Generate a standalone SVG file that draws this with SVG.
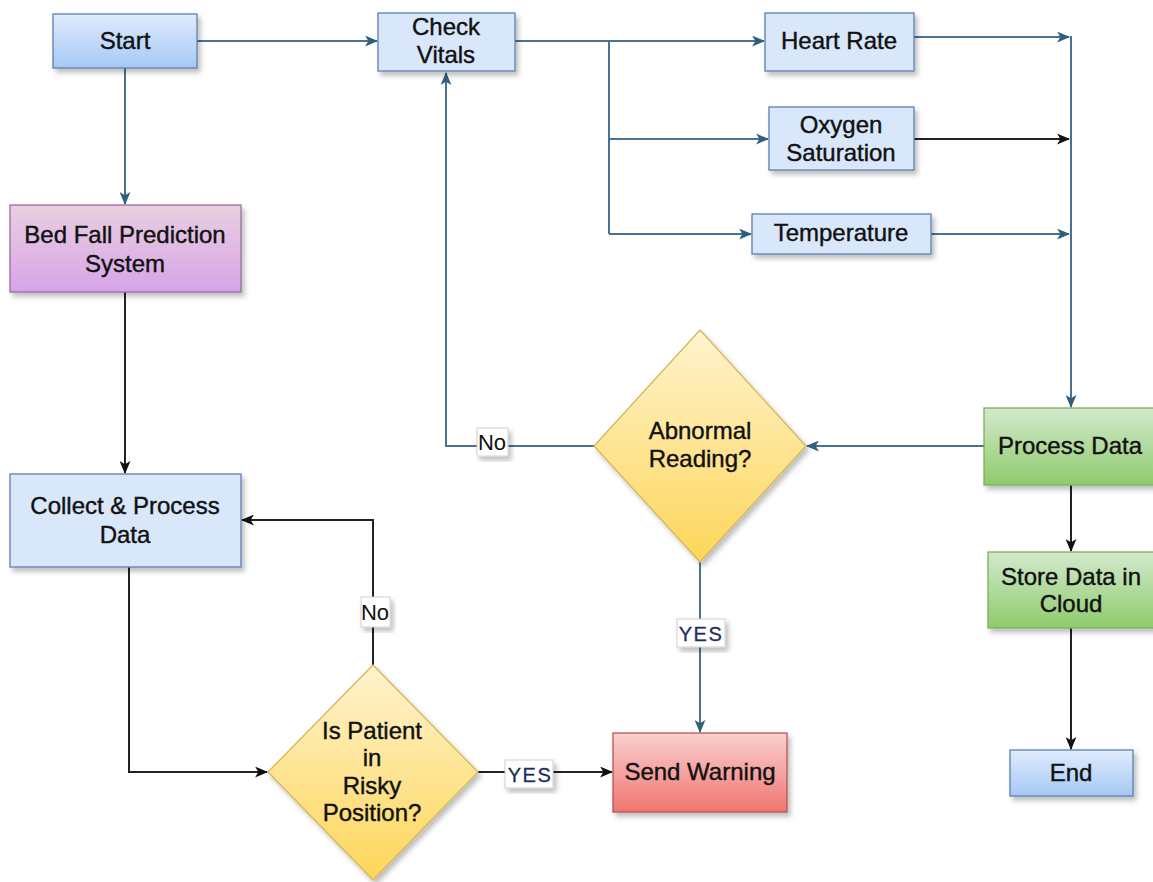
<svg xmlns="http://www.w3.org/2000/svg" width="1153" height="882" viewBox="0 0 1153 882">
  <defs>
    <linearGradient id="gBlue" x1="0" y1="0" x2="0" y2="1">
      <stop offset="0" stop-color="#dfecfd"/>
      <stop offset="1" stop-color="#a6c8f4"/>
    </linearGradient>
    <linearGradient id="gPink" x1="0" y1="0" x2="0" y2="1">
      <stop offset="0" stop-color="#e9cfe0"/>
      <stop offset="1" stop-color="#d7a4e8"/>
    </linearGradient>
    <linearGradient id="gGreen" x1="0" y1="0" x2="0" y2="1">
      <stop offset="0" stop-color="#d3e9cd"/>
      <stop offset="1" stop-color="#8fcb6c"/>
    </linearGradient>
    <linearGradient id="gRed" x1="0" y1="0" x2="0" y2="1">
      <stop offset="0" stop-color="#f9d0d0"/>
      <stop offset="1" stop-color="#f07570"/>
    </linearGradient>
    <linearGradient id="gYellow" x1="0" y1="0" x2="0" y2="1">
      <stop offset="0" stop-color="#fff3cf"/>
      <stop offset="1" stop-color="#fdd659"/>
    </linearGradient>
    <filter id="shadow" x="-10%" y="-10%" width="130%" height="130%">
      <feDropShadow dx="3" dy="4" stdDeviation="2.5" flood-color="#000" flood-opacity="0.25"/>
    </filter>
    <marker id="arrBlue" viewBox="0 0 12 10" refX="11" refY="5" markerWidth="13" markerHeight="11" markerUnits="userSpaceOnUse" orient="auto">
      <path d="M0,0 L12,5 L0,10 L3,5 z" fill="#2f5f7f"/>
    </marker>
    <marker id="arrBlack" viewBox="0 0 12 10" refX="11" refY="5" markerWidth="13" markerHeight="11" markerUnits="userSpaceOnUse" orient="auto">
      <path d="M0,0 L12,5 L0,10 L3,5 z" fill="#111"/>
    </marker>
  </defs>
  <style>
    text { font-family: "Liberation Sans", Arial, sans-serif; font-size: 24px; fill: #111; stroke: #111; stroke-width: 0.4; text-anchor: middle; }
    .node { filter: url(#shadow); stroke-width: 1.3; }
    .blue { fill: #d9e7fa; stroke: #5b7fae; }
    .link { fill: none; stroke-width: 2; }
    .lb { stroke: #4a7190; marker-end: url(#arrBlue); }
    .lbn { stroke: #4a7190; }
    .lk { stroke: #222; marker-end: url(#arrBlack); }
    .tag { fill: #fff; stroke: #d0d0d0; stroke-width: 1; filter: url(#shadow); }
    text.no { font-size: 22px; fill: #111; stroke: none; }
    text.yes { font-size: 20px; fill: #1c2d5e; stroke: #1c2d5e; stroke-width: 0.3; letter-spacing: 1.5px; }
  </style>

  <rect width="1153" height="882" fill="#ffffff"/>

  <!-- connectors -->
  <g id="connectors">
    <path class="link lb" d="M197,41 H377"/>
    <path class="link lb" d="M125,68 V204"/>
    <path class="link lk" d="M125,292 V473"/>
    <path class="link lk" d="M129,567 V772 H267"/>
    <path class="link lk" d="M373,665 V520 H242"/>
    <path class="link lk" d="M478,772 H612"/>
    <path class="link lb" d="M515,41 H764"/>
    <path class="link lbn" d="M609,41 V234"/>
    <path class="link lb" d="M609,139 H768"/>
    <path class="link lb" d="M609,234 H751"/>
    <path class="link lb" d="M914,37 H1069"/>
    <path class="link lk" d="M914,139 H1069"/>
    <path class="link lb" d="M931,234 H1069"/>
    <path class="link lb" d="M1071,36 V407"/>
    <path class="link lb" d="M984,446 H807"/>
    <path class="link lb" d="M594,446 H446 V73"/>
    <path class="link lb" d="M700,562 V732"/>
    <path class="link lk" d="M1071,485 V551"/>
    <path class="link lk" d="M1071,628 V749"/>

    <!-- branch labels -->
    <rect class="tag" x="477" y="428" width="31" height="28"/>
    <text class="no" x="492" y="450">No</text>
    <rect class="tag" x="361" y="597" width="29" height="30"/>
    <text class="no" x="375" y="620">No</text>
    <rect class="tag" x="677" y="619" width="48" height="28"/>
    <text class="yes" x="701" y="641">YES</text>
    <rect class="tag" x="505" y="760" width="48" height="28"/>
    <text class="yes" x="530" y="782">YES</text>
  </g>

  <!-- nodes -->
  <g id="start">
    <rect class="node" x="53" y="14" width="144" height="54" fill="url(#gBlue)" stroke="#5b7fae"/>
    <text x="125" y="49">Start</text>
  </g>
  <g id="check-vitals">
    <rect class="node blue" x="378" y="13" width="137" height="58"/>
    <text x="446" y="35">Check</text>
    <text x="446" y="63">Vitals</text>
  </g>
  <g id="heart-rate">
    <rect class="node blue" x="765" y="13" width="149" height="58"/>
    <text x="839" y="49">Heart Rate</text>
  </g>
  <g id="oxygen-saturation">
    <rect class="node blue" x="769" y="107" width="145" height="63"/>
    <text x="841" y="133">Oxygen</text>
    <text x="841" y="161">Saturation</text>
  </g>
  <g id="temperature">
    <rect class="node blue" x="752" y="214" width="179" height="40"/>
    <text x="841" y="241">Temperature</text>
  </g>
  <g id="bed-fall">
    <rect class="node" x="10" y="205" width="231" height="87" fill="url(#gPink)" stroke="#9a6aa6"/>
    <text x="125" y="243">Bed Fall Prediction</text>
    <text x="125" y="272">System</text>
  </g>
  <g id="collect-process">
    <rect class="node blue" x="10" y="474" width="231" height="93"/>
    <text x="125" y="514">Collect &amp; Process</text>
    <text x="125" y="543">Data</text>
  </g>
  <g id="is-patient-risky">
    <polygon class="node" points="373,665 478,772 373,880 268,772" fill="url(#gYellow)" stroke="#d6b656"/>
    <text x="372" y="739">Is Patient</text>
    <text x="372" y="766">in</text>
    <text x="372" y="794">Risky</text>
    <text x="372" y="821">Position?</text>
  </g>
  <g id="abnormal-reading">
    <polygon class="node" points="700,330 806,446 700,562 594,446" fill="url(#gYellow)" stroke="#d6b656"/>
    <text x="700" y="439">Abnormal</text>
    <text x="700" y="467">Reading?</text>
  </g>
  <g id="send-warning">
    <rect class="node" x="613" y="733" width="174" height="79" fill="url(#gRed)" stroke="#b85450"/>
    <text x="700" y="780">Send Warning</text>
  </g>
  <g id="process-data">
    <rect class="node" x="984" y="408" width="172" height="77" fill="url(#gGreen)" stroke="#7aaf5e"/>
    <text x="1070" y="454">Process Data</text>
  </g>
  <g id="store-cloud">
    <rect class="node" x="988" y="552" width="168" height="76" fill="url(#gGreen)" stroke="#7aaf5e"/>
    <text x="1071" y="585">Store Data in</text>
    <text x="1071" y="612">Cloud</text>
  </g>
  <g id="end">
    <rect class="node" x="1010" y="750" width="123" height="46" fill="url(#gBlue)" stroke="#5b7fae"/>
    <text x="1071" y="781">End</text>
  </g>
</svg>
